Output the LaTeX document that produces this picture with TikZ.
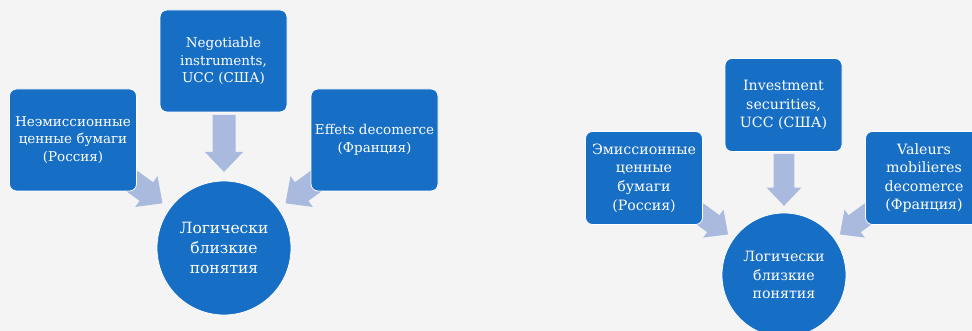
\documentclass[tikz,border=0pt]{standalone}
\usepackage{fontspec}
\setmainfont{DejaVu Serif}
\definecolor{tileblue}{HTML}{176EC5}
\definecolor{arrowlilac}{HTML}{AABADE}
\definecolor{paper}{HTML}{F4F4F4}
% block arrow pointing at a hub: centre, angle, scale
\newcommand{\convarrow}[3]{%
  \fill[arrowlilac,shift={(#1)},rotate=#2,scale=#3] (76,0) -- (96,19) -- (96,11.5) -- (133,11.5)
    -- (133,-11.5) -- (96,-11.5) -- (96,-19) -- cycle;}
\begin{document}
\begin{tikzpicture}[x=1pt,y=-1pt,
	tile/.style={draw=white,line width=0.8pt,fill=tileblue,rounded corners=7pt,text=white,align=center,
		minimum width=127pt,minimum height=102pt,inner sep=0pt,font=\fontsize{13.5}{17.7}\selectfont},
	tileR/.style={tile,minimum width=117pt,minimum height=93pt,font=\fontsize{14.2}{18.6}\selectfont},
	hub/.style={circle,draw=white,line width=0.8pt,fill=tileblue,text=white,align=center,
		minimum size=134pt,inner sep=0pt,font=\fontsize{15.5}{20}\selectfont},
	hubR/.style={hub,minimum size=124pt,font=\fontsize{14.2}{18.8}\selectfont}]
	\clip (0,0) rectangle (972,331);
	\fill[paper] (0,0) rectangle (972,331);
	% left diagram
	\node[hub] (hubL) at (224,248) {Логически\\близкие\\понятия};
	\convarrow{hubL}{90}{1}
	\convarrow{hubL}{144}{1}
	\convarrow{hubL}{36}{1}
	\node[tile] (negL) at (223.5,61) {Negotiable\\instruments,\\UCC (США)};
	\node[tile] (neemL) at (73,140) {Неэмиссионные\\ценные бумаги\\(Россия)};
	\node[tile] (effL) at (374.5,140) {Effets decomerce\\(Франция)};
	% right diagram
	\node[hubR] (hubR) at (784,275) {Логически\\близкие\\понятия};
	\convarrow{hubR}{90}{0.91}
	\convarrow{hubR}{144}{0.91}
	\convarrow{hubR}{36}{0.91}
	\node[tileR] (invR) at (783.5,105) {Investment\\securities,\\UCC (США)};
	\node[tileR] (emR) at (644,178) {Эмиссионные\\ценные\\бумаги\\(Россия)};
	\node[tileR] (valR) at (924,178) {Valeurs\\mobilieres\\decomerce\\(Франция)};
\end{tikzpicture}
\end{document}
